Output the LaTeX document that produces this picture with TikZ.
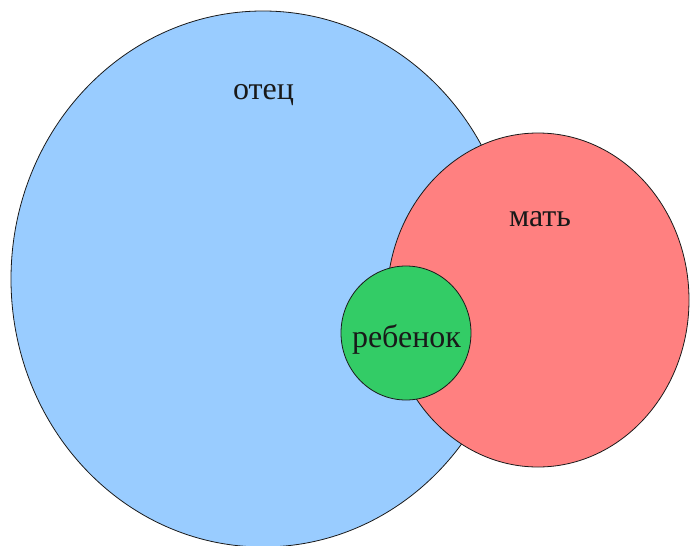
\documentclass[tikz,border=0pt]{standalone}
\usepackage{fontspec}
\setmainfont{Liberation Serif}
\usetikzlibrary{shapes.geometric}
\definecolor{otecblue}{HTML}{99CCFF}
\definecolor{matred}{HTML}{FF8080}
\definecolor{rebgreen}{HTML}{33CC66}
\definecolor{edge}{HTML}{1A1A1A}
\tikzset{
  setshape/.style={ellipse, draw=edge, line width=0.8pt, inner sep=0pt},
  setlabel/.style={anchor=base, inner sep=0pt, font=\fontsize{32}{38}\selectfont, text=black!90},
}
\begin{document}
\begin{tikzpicture}[x=1pt,y=-1pt]
\useasboundingbox (0,0) rectangle (691,546);
\fill[white] (0,0) rectangle (691,546);
\clip (0,0) rectangle (691,546);
\node[setshape, fill=otecblue, minimum width=504pt, minimum height=536pt] (otec) at (263,279) {};
\node[setshape, fill=matred, minimum width=302pt, minimum height=334pt] (mat) at (538,300) {};
\node[setshape, fill=rebgreen, minimum width=130pt, minimum height=134pt] (reb) at (406,333) {};
\node[setlabel] (lotec) at (263.5,99) {отец};
\node[setlabel] (lmat) at (540,226) {мать};
\node[setlabel] (lreb) at (406.5,347) {ребенок};
\end{tikzpicture}
\end{document}
